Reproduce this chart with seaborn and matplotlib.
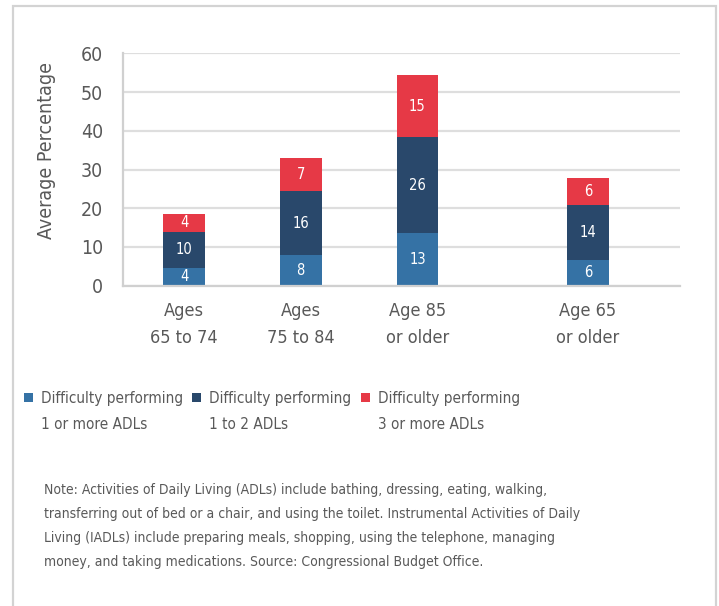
import numpy as np
import pandas as pd
import seaborn as sns
import matplotlib.pyplot as plt
from matplotlib.patches import Rectangle

# Datos
grupos = ["Ages\n65 to 74", "Ages\n75 to 84", "Age 85\nor older", "Age 65\nor older"]
uno_o_mas = [4.6, 7.9, 13.6, 6.6]
uno_a_dos = [9.3, 16.5, 24.8, 14.2]
tres_o_mas = [4.6, 8.5, 16.0, 7.0]
etiquetas_uno_o_mas = ["4", "8", "13", "6"]
etiquetas_uno_a_dos = ["10", "16", "26", "14"]
etiquetas_tres_o_mas = ["4", "7", "15", "6"]
series = ["Difficulty performing\n1 or more ADLs",
          "Difficulty performing\n1 to 2 ADLs",
          "Difficulty performing\n3 or more ADLs"]
nota = ("Note: Activities of Daily Living (ADLs) include bathing, dressing, eating, walking,\n"
        "transferring out of bed or a chair, and using the toilet. Instrumental Activities of Daily\n"
        "Living (IADLs) include preparing meals, shopping, using the telephone, managing\n"
        "money, and taking medications. Source: Congressional Budget Office.")

colores = ["#3572A5", "#29486B", "#E63946"]
gris_texto = "#595959"

# posiciones en x (el ultimo grupo va separado)
x_pos = [0, 1, 2, 3.46]

df = pd.DataFrame({"x": x_pos, "grupo": grupos,
                   "a": uno_o_mas, "b": uno_a_dos, "c": tres_o_mas})
df["ab"] = df["a"] + df["b"]
df["abc"] = df["ab"] + df["c"]

sns.set_theme(style="white")
plt.rcParams["font.family"] = ["Liberation Sans Narrow", "DejaVu Sans"]
plt.rcParams["font.stretch"] = "condensed"

fig = plt.figure(figsize=(7.19, 6.06), dpi=100)
ax = fig.add_axes([0.1707, 0.5285, 0.7751, 0.3835])

# barras apiladas: se dibuja el total y luego se superponen las capas inferiores
for col, color in zip(["abc", "ab", "a"], colores[::-1]):
    sns.barplot(data=df, x="x", y=col, native_scale=True, width=0.357,
                color=color, saturation=1, linewidth=0, ax=ax)

# etiquetas dentro de cada segmento
for i in range(len(df)):
    fila = df.iloc[i]
    for y, txt in [(fila["a"] / 2, etiquetas_uno_o_mas[i]),
                   (fila["a"] + fila["b"] / 2, etiquetas_uno_a_dos[i]),
                   (fila["ab"] + fila["c"] / 2, etiquetas_tres_o_mas[i])]:
        ax.text(fila["x"], y, txt, ha="center", va="center",
                color="white", fontsize=10.5)

ax.set_xlim(-0.525, 4.25)
ax.set_ylim(0, 60)
ax.set_yticks(range(0, 61, 10))
ax.set_xticks(x_pos)
ax.set_xticklabels(grupos, linespacing=1.6)
ax.set_xlabel("")
ax.set_ylabel("Average Percentage", fontsize=14, color=gris_texto)
ax.yaxis.set_label_coords(-0.12, 0.584)
ax.tick_params(axis="y", length=0, pad=14, labelsize=14, labelcolor=gris_texto)
ax.tick_params(axis="x", length=0, pad=12, labelsize=13, labelcolor=gris_texto)

ax.set_axisbelow(True)
ax.yaxis.grid(True, color="#dedede", linewidth=1.6)
for s in ["top", "right"]:
    ax.spines[s].set_visible(False)
for s in ["left", "bottom"]:
    ax.spines[s].set_color("#d0d0d0")
    ax.spines[s].set_linewidth(1.6)

# leyenda manual
leg_x = [0.0334, 0.2670, 0.5020]
for x0, nombre, color in zip(leg_x, series, colores):
    fig.patches.append(Rectangle((x0, 0.3365), 0.0121, 0.0152, transform=fig.transFigure,
                                 facecolor=color, edgecolor="none"))
    fig.text(x0 + 0.0232, 0.3215, nombre, ha="left", va="center", fontsize=11,
             color=gris_texto, linespacing=1.94)

fig.text(0.0612, 0.132, nota, ha="left", va="center", fontsize=10,
         color=gris_texto, linespacing=1.88)

# marco exterior
fig.patches.append(Rectangle((0.018, -0.05), 0.978, 1.04, transform=fig.transFigure,
                             facecolor="none", edgecolor="#d3d3d3", linewidth=1.6))

fig.savefig("out.png", dpi=100)
